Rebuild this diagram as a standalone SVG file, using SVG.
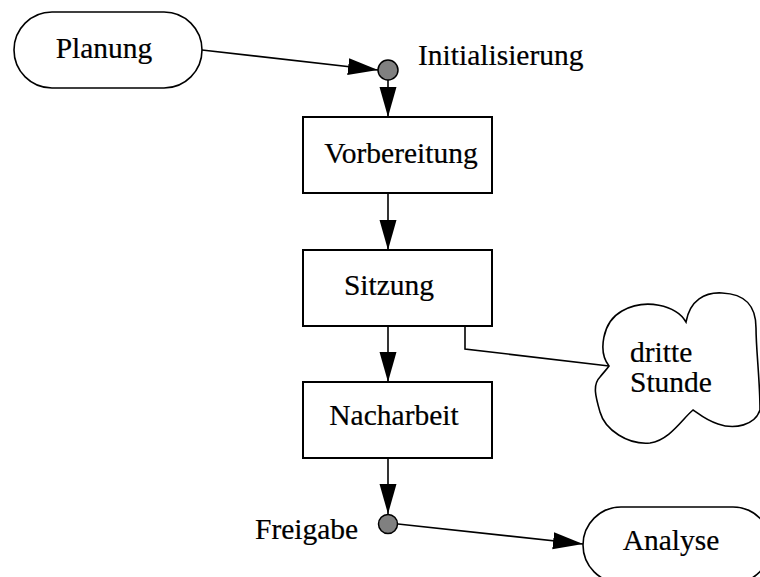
<svg xmlns="http://www.w3.org/2000/svg" width="760" height="577" viewBox="0 0 760 577">
  <style>
    .shape { fill: #ffffff; stroke: #000000; stroke-width: 1.6; }
    .box { fill: #ffffff; stroke: #000000; stroke-width: 2; }
    .dot { fill: #808080; stroke: #000000; stroke-width: 1.5; }
    .label { font-family: "Liberation Serif", "Times New Roman", serif; font-size: 29.5px; fill: #000000; stroke: #000000; stroke-width: 0.2; }
    .mid { text-anchor: middle; }
    .edge { fill: none; stroke: #000000; stroke-width: 1.6; }
    .arrow { marker-end: url(#head); }
  </style>
  <defs>
    <marker id="head" markerUnits="userSpaceOnUse" markerWidth="31" markerHeight="18" refX="30" refY="8.5" orient="auto">
      <path d="M0,0 L30,8.5 L0,17 Z" fill="#000000"/>
    </marker>
  </defs>

  <rect width="760" height="577" fill="#ffffff"/>

  <!-- connectors -->
  <g id="connectors">
    <path class="edge arrow" d="M202,50 L378,70"/>
    <path class="edge arrow" d="M388,80 L388,117"/>
    <path class="edge arrow" d="M388,193 L388,250"/>
    <path class="edge arrow" d="M388,326 L388,382"/>
    <path class="edge arrow" d="M388,458 L388,514"/>
    <path class="edge arrow" d="M398,524 L583,544"/>
    <path class="edge" d="M465,326 L465,349 L609,366"/>
  </g>

  <!-- start state -->
  <g id="planung">
    <rect class="shape" x="14" y="12" width="188" height="76" rx="38" ry="38"/>
    <text class="label mid" x="104" y="58">Planung</text>
  </g>

  <g id="initialisierung">
    <circle class="dot" cx="388" cy="70" r="10"/>
    <text class="label" x="418" y="65">Initialisierung</text>
  </g>

  <g id="vorbereitung">
    <rect class="box" x="303" y="117" width="189" height="76"/>
    <text class="label mid" x="401" y="163">Vorbereitung</text>
  </g>

  <g id="sitzung">
    <rect class="box" x="303" y="250" width="189" height="76"/>
    <text class="label mid" x="389" y="295">Sitzung</text>
  </g>

  <g id="nacharbeit">
    <rect class="box" x="303" y="382" width="189" height="76"/>
    <text class="label mid" x="394" y="425">Nacharbeit</text>
  </g>

  <g id="freigabe">
    <circle class="dot" cx="388" cy="524" r="9.5"/>
    <text class="label" x="255" y="539">Freigabe</text>
  </g>

  <!-- end state, runs off the lower right edge -->
  <g id="analyse">
    <rect class="shape" x="583" y="507" width="188" height="76" rx="38" ry="38"/>
    <text class="label mid" x="671" y="550">Analyse</text>
  </g>

  <!-- note cloud attached to Sitzung -->
  <g id="note">
    <path class="shape" d="M609,366
      C598,352 602,322 622,311
      C645,298 676,305 686,322
      C690,300 705,292 722,293
      C745,294 756,305 756,328
      C756,350 760,380 760,410
      C755,425 735,430 718,424
      C705,420 698,413 693,410
      C683,418 670,440 650,443
      C628,445 605,430 600,412
      C596,398 592,385 600,377
      C604,372 607,369 609,366 Z"/>
    <text class="label" x="630" y="362">dritte</text>
    <text class="label" x="630" y="392">Stunde</text>
  </g>
</svg>
